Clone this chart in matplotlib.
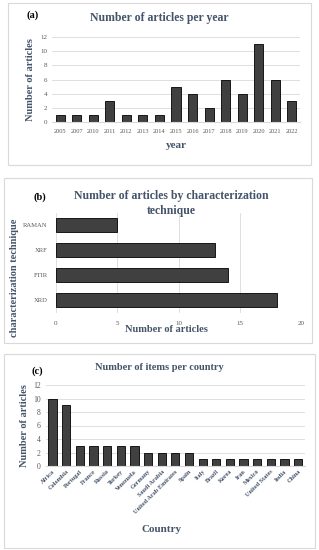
import matplotlib.pyplot as plt
from matplotlib.patches import Rectangle

plt.rcParams['font.family'] = ['Liberation Serif', 'DejaVu Serif']

# (a) articles per year
years = ['2005', '2007', '2010', '2011', '2012', '2013', '2014', '2015',
         '2016', '2017', '2018', '2019', '2020', '2021', '2022']
year_counts = [1, 1, 1, 3, 1, 1, 1, 5, 4, 2, 6, 4, 11, 6, 3]

# (b) articles by characterization technique
techniques = ['XRD', 'FTIR', 'XRF', 'RAMAN']
tech_counts = [18, 14, 13, 5]

# (c) items per country
countries = ['Africa', 'Colombia', 'Portugal', 'France', 'Russia', 'Turkey',
             'Venezuela', 'Germany', 'Saudi Arabia', 'United Arab Emirates',
             'Spain', 'Italy', 'Brazil', 'Korea', 'Iran', 'Mexico',
             'United States', 'India', 'China']
country_counts = [10, 9, 3, 3, 3, 3, 3, 2, 2, 2, 2, 1, 1, 1, 1, 1, 1, 1, 1]

W, H = 319, 550
fig = plt.figure(figsize=(W / 100, H / 100), dpi=100)

navy = '#44546A'
grey = '#595959'
grid = '#D9D9D9'
bar_c = '#404040'


def rect(x0, y0, x1, y1):
    # pixel box (top-left origin) -> figure fraction [l, b, w, h]
    return [x0 / W, 1 - y1 / H, (x1 - x0) / W, (y1 - y0) / H]


def ftext(x, y, s, **kw):
    fig.text(x / W, 1 - y / H, s, ha=kw.pop('ha', 'center'),
             va=kw.pop('va', 'center'), **kw)


def box(x0, y0, x1, y1):
    l, b, w, h = rect(x0, y0, x1, y1)
    fig.patches.append(Rectangle((l, b), w, h, transform=fig.transFigure,
                                 fill=False, edgecolor=grid, lw=0.8))


def style(ax, horiz=False):
    for s in ax.spines.values():
        s.set_visible(False)
    if horiz:
        ax.xaxis.grid(True, color=grid, lw=0.6)
    else:
        ax.yaxis.grid(True, color=grid, lw=0.6)
        ax.spines['bottom'].set_visible(True)
        ax.spines['bottom'].set_color(grid)
    ax.set_axisbelow(True)
    ax.tick_params(length=0, colors=grey, labelsize=5)


# ---- panel (a)
box(8, 3, 311, 165)
ax1 = fig.add_axes(rect(52, 37, 300, 122))
ax1.bar(years, year_counts, width=0.55, color=bar_c, edgecolor='black', lw=0.6)
ax1.set_ylim(0, 12)
ax1.set_yticks(range(0, 13, 2))
ax1.set_xlim(-0.5, len(years) - 0.5)
style(ax1)
ax1.tick_params(axis='x', labelsize=4.6, pad=5)
ax1.set_ylabel('Number of articles', fontsize=7.5, fontweight='bold',
               color=navy, labelpad=4)
ftext(159, 18, 'Number of articles per year', fontsize=8.5,
      fontweight='bold', color=navy)
ftext(33, 15, '(a)', fontsize=7.5, fontweight='bold')
ftext(176, 146, 'year', fontsize=8, fontweight='bold', color=navy)

# ---- panel (b)
box(4, 178, 312, 343)
ax2 = fig.add_axes(rect(56, 212.5, 301, 312.5))
ax2.barh(techniques, tech_counts, height=0.53, color=bar_c,
         edgecolor='black', lw=0.6)
ax2.set_xlim(0, 20)
ax2.set_xticks(range(0, 21, 5))
ax2.set_ylim(-0.5, len(techniques) - 0.5)
style(ax2, horiz=True)
ax2.tick_params(axis='y', labelsize=4.8, pad=6)
ax2.tick_params(axis='x', pad=6)
ftext(171, 196, 'Number of articles by characterization', fontsize=8.5,
      fontweight='bold', color=navy)
ftext(171, 211, 'technique', fontsize=8.5, fontweight='bold', color=navy)
ftext(40, 197, '(b)', fontsize=7.5, fontweight='bold')
ftext(166, 330, 'Number of articles', fontsize=7.5, fontweight='bold',
      color=navy)
ftext(15, 278, 'characterization technique', fontsize=7.5,
      fontweight='bold', color=navy, rotation=90)

# ---- panel (c)
box(4, 354, 315, 548)
ax3 = fig.add_axes(rect(45.7, 385, 305, 466))
ax3.bar(countries, country_counts, width=0.6, color=bar_c,
        edgecolor='black', lw=0.6)
ax3.set_ylim(0, 12)
ax3.set_yticks(range(0, 13, 2))
ax3.set_xlim(-0.5, len(countries) - 0.5)
style(ax3)
ax3.tick_params(axis='y', labelsize=5.5)
ax3.tick_params(axis='x', pad=2)
for lab in ax3.get_xticklabels():
    lab.set_rotation(45)
    lab.set_ha('right')
    lab.set_rotation_mode('anchor')
    lab.set_fontsize(4.5)
    lab.set_fontweight('bold')
    lab.set_color(navy)
ax3.set_ylabel('Number of articles', fontsize=7.5, fontweight='bold',
               color=navy, labelpad=3)
ftext(159, 368, 'Number of items per country', fontsize=7.5,
      fontweight='bold', color=navy)
ftext(37, 371, '(c)', fontsize=7.5, fontweight='bold')
ftext(162, 529, 'Country', fontsize=8, fontweight='bold', color=navy)

fig.savefig('out.png', dpi=100)
